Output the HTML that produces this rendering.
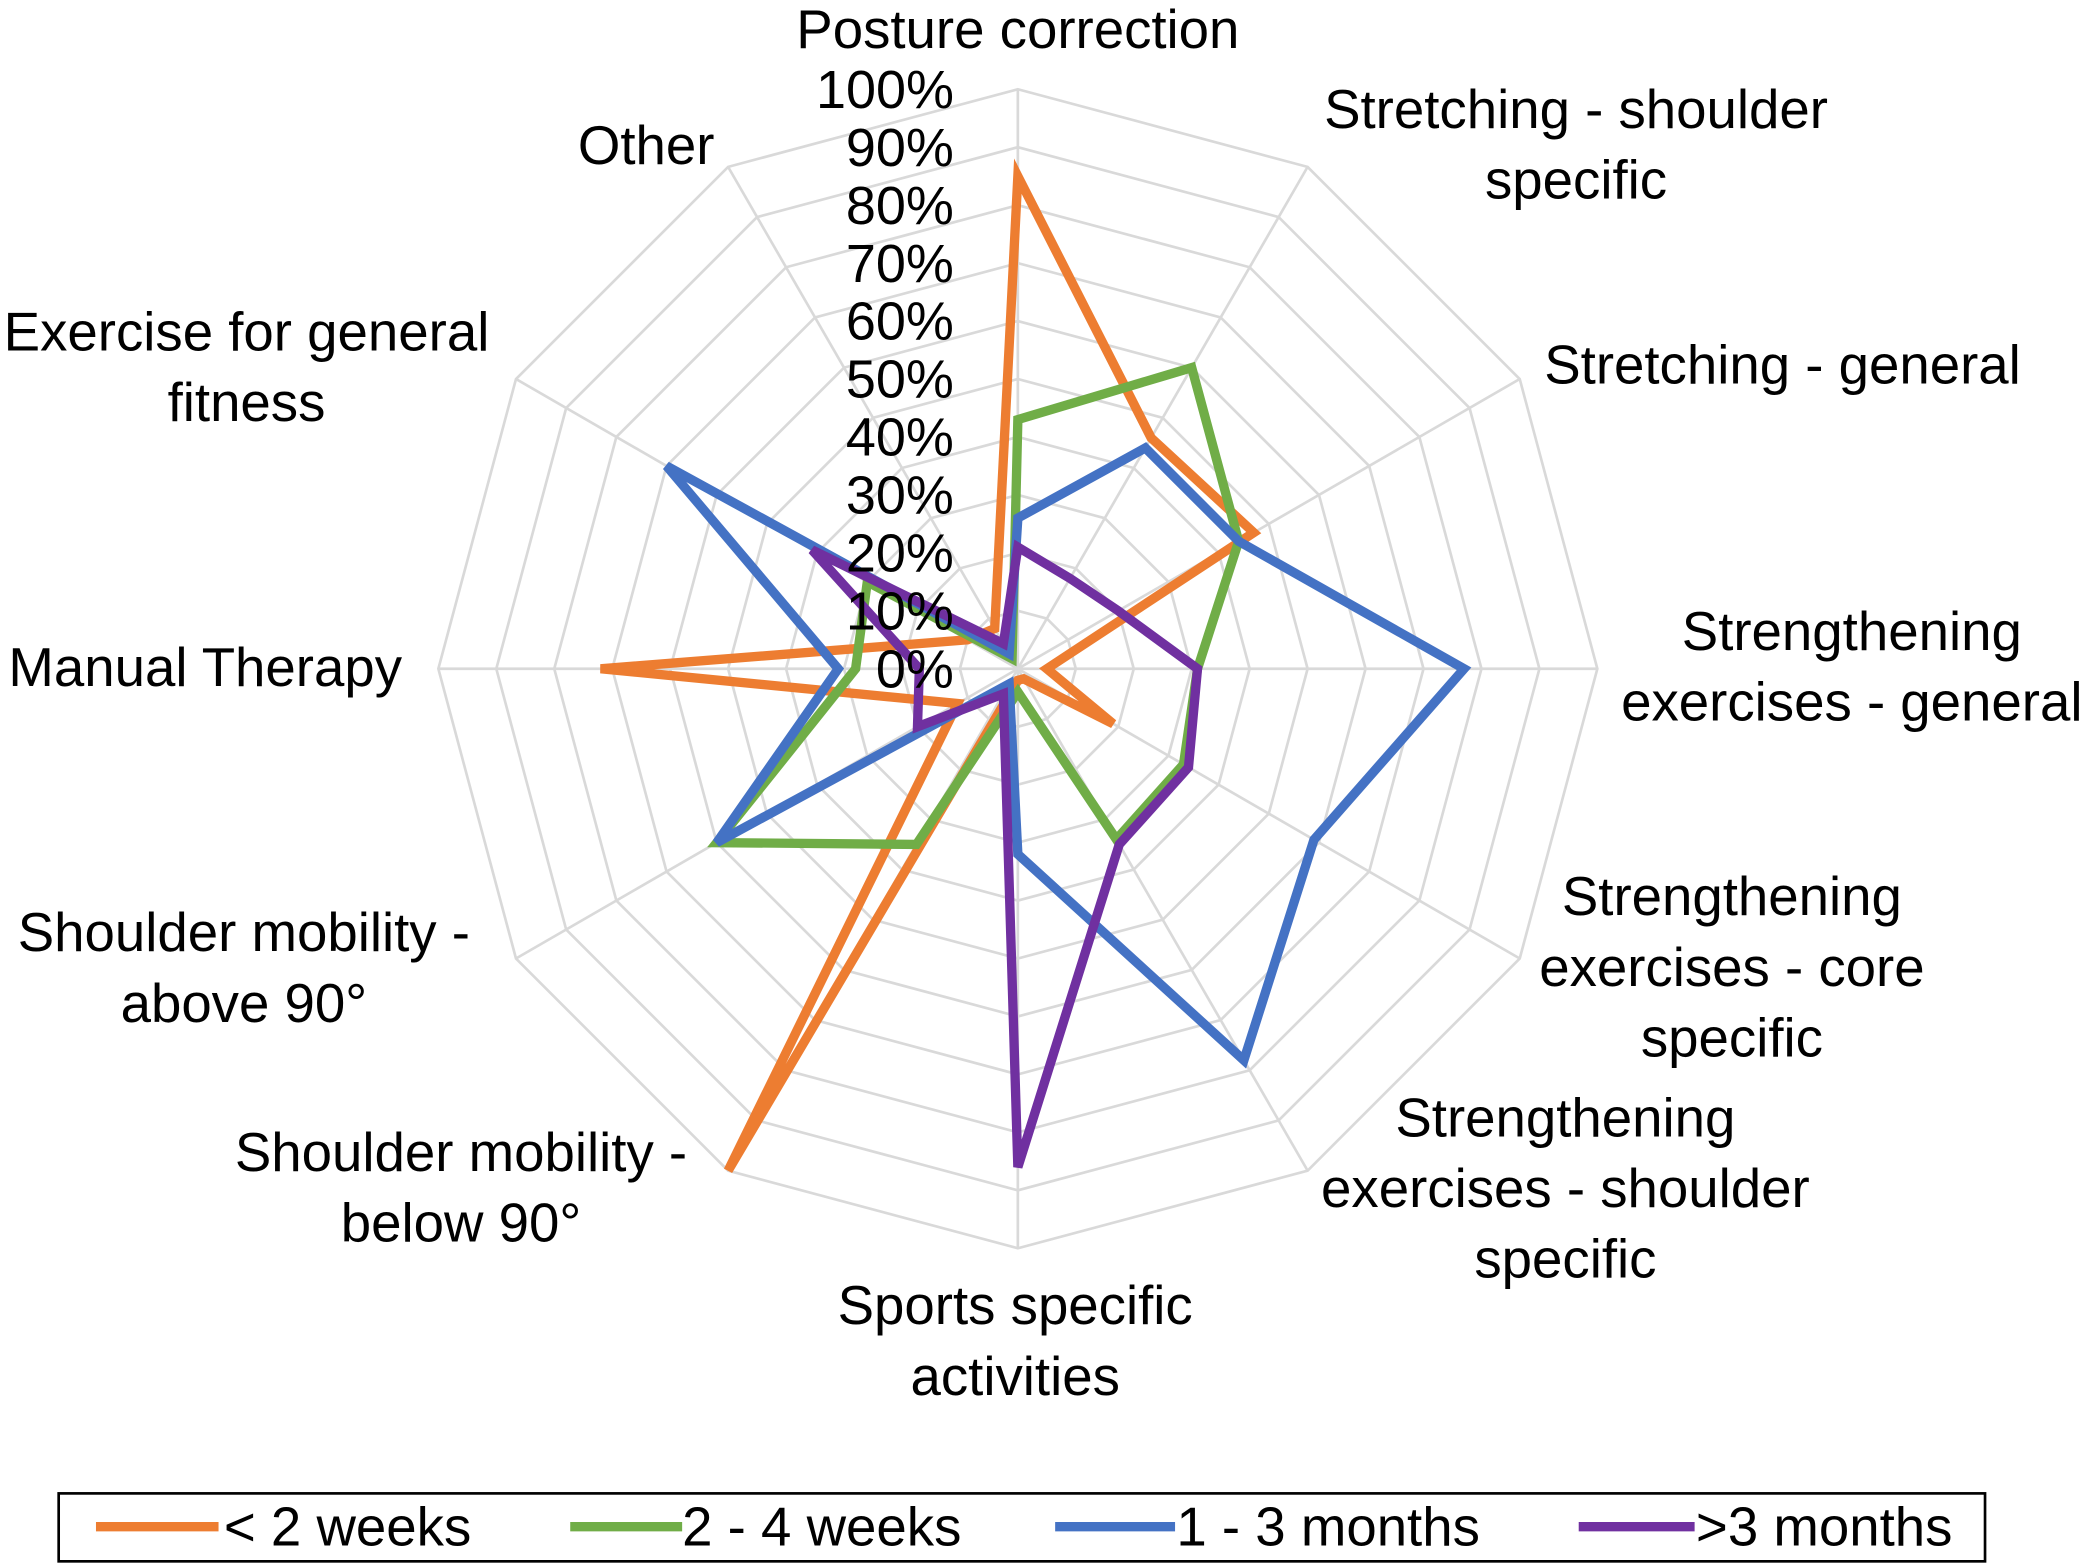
<!DOCTYPE html>
<html><head><meta charset="utf-8"><style>
html,body{margin:0;padding:0;background:#fff;}
svg{display:block;}
text{font-family:"Liberation Sans",Arial,sans-serif;fill:#000;}
</style></head><body>
<svg id="chart" width="2089" height="1564" viewBox="0 0 1568 1174" xmlns="http://www.w3.org/2000/svg">
<g id="grid"></g>
<g id="series"></g>
<g id="ticks"></g>
<g id="cats"></g>
<g>
<rect x="44" y="1121" width="1446" height="51" fill="#fff" stroke="#000" stroke-width="2"/>
<g><line x1="72" y1="1146" x2="164" y2="1146" stroke="#ED7D31" stroke-width="7"/><text x="168" y="1160" font-size="41">&lt; 2 weeks</text></g>
<g><line x1="428" y1="1146" x2="512" y2="1146" stroke="#70AD47" stroke-width="7"/><text x="512" y="1160" font-size="41">2 - 4 weeks</text></g>
<g><line x1="792" y1="1146" x2="882" y2="1146" stroke="#4472C4" stroke-width="7"/><text x="883" y="1160" font-size="41">1 - 3 months</text></g>
<g><line x1="1185" y1="1146" x2="1272" y2="1146" stroke="#7030A0" stroke-width="7"/><text x="1273" y="1160" font-size="41">&gt;3 months</text></g>
</g>
</svg>
<script>
const categories=["Posture correction","Stretching - shoulder specific","Stretching - general","Strengthening exercises - general","Strengthening exercises - core specific","Strengthening exercises - shoulder specific","Sports specific activities","Shoulder mobility - below 90°","Shoulder mobility - above 90°","Manual Therapy","Exercise for general fitness","Other"];
const seriesNames=["< 2 weeks","2 - 4 weeks","1 - 3 months",">3 months"];
const lt2w=[0.85,0.46,0.47,0.05,0.19,0.02,0.02,1.0,0.12,0.72,0.10,0.08];
const w2to4=[0.43,0.60,0.44,0.31,0.33,0.34,0.04,0.35,0.60,0.28,0.30,0.02];
const m1to3=[0.26,0.44,0.44,0.77,0.59,0.78,0.32,0.03,0.60,0.31,0.70,0.03];
const gt3m=[0.21,0.18,0.20,0.31,0.34,0.35,0.86,0.05,0.20,0.17,0.41,0.05];
const tickLabels=["0%","10%","20%","30%","40%","50%","60%","70%","80%","90%","100%"];
const colors=["#ED7D31","#70AD47","#4472C4","#7030A0"];
const cx=764,cy=502,R=435;
const NS="http://www.w3.org/2000/svg";
function ang(i){return i*2*Math.PI/categories.length;}
function px(i,v){return cx+R*v*Math.sin(ang(i));}
function py(i,v){return cy-R*v*Math.cos(ang(i));}
const grid=document.getElementById('grid');
for(let k=1;k<tickLabels.length;k++){
  const v=k/(tickLabels.length-1);
  const p=document.createElementNS(NS,'polygon');
  p.setAttribute('points',categories.map((c,i)=>px(i,v)+','+py(i,v)).join(' '));
  p.setAttribute('fill','none');p.setAttribute('stroke','#d9d9d9');p.setAttribute('stroke-width','2');
  
  
  grid.appendChild(p);
}
categories.forEach((c,i)=>{
  const l=document.createElementNS(NS,'line');
  l.setAttribute('x1',cx);l.setAttribute('y1',cy);l.setAttribute('x2',px(i,1));l.setAttribute('y2',py(i,1));
  l.setAttribute('stroke','#d9d9d9');l.setAttribute('stroke-width','2');
  
  
  grid.appendChild(l);
});
const sg=document.getElementById('series');
[lt2w,w2to4,m1to3,gt3m].forEach((vals,s)=>{
  const p=document.createElementNS(NS,'polygon');
  p.setAttribute('points',vals.map((v,i)=>px(i,v)+','+py(i,v)).join(' '));
  p.setAttribute('fill','none');p.setAttribute('stroke',colors[s]);p.setAttribute('stroke-width','7');p.setAttribute('stroke-linejoin','miter');
  
  
  sg.appendChild(p);
});
const tg=document.getElementById('ticks');
tickLabels.forEach((t,k)=>{
  const v=k/(tickLabels.length-1);
  const e=document.createElementNS(NS,'text');
  e.setAttribute('x',716);e.setAttribute('y',cy-R*v+14);e.setAttribute('text-anchor','end');e.setAttribute('font-size','40.5');
  e.textContent=t;
  
  
  tg.appendChild(e);
});
const catLines=[[["Posture correction"],764,36,"middle"],[["Stretching - shoulder","specific"],1183,96,"middle"],[["Stretching - general"],1338,288,"middle"],[["Strengthening","exercises - general"],1390,488,"middle"],[["Strengthening","exercises - core","specific"],1300,687,"middle"],[["Strengthening","exercises - shoulder","specific"],1175,853,"middle"],[["Sports specific","activities"],762,994,"middle"],[["Shoulder mobility -","below 90°"],346,879,"middle"],[["Shoulder mobility -","above 90°"],183,714,"middle"],[["Manual Therapy"],154,515,"middle"],[["Exercise for general","fitness"],185,263,"middle"],[["Other"],485,123,"middle"]];
const cg=document.getElementById('cats');
catLines.forEach(([lines,x,y,a])=>{
  const e=document.createElementNS(NS,'text');
  e.setAttribute('x',x);e.setAttribute('y',y);e.setAttribute('text-anchor',a);e.setAttribute('font-size','41');
  lines.forEach((ln,j)=>{const ts=document.createElementNS(NS,'tspan');ts.setAttribute('x',x);ts.setAttribute('dy',j?53:0);ts.textContent=ln;e.appendChild(ts);});
  
  
  cg.appendChild(e);
});
</script>
</body></html>
